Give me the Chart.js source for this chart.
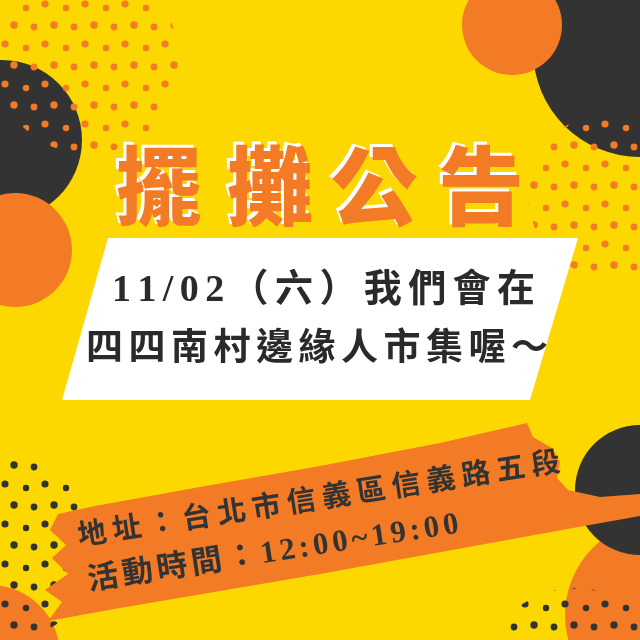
<!DOCTYPE html>
<html>
<head>
<meta charset="utf-8">
<script src="https://cdn.jsdelivr.net/npm/chart.js@4.4.0/dist/chart.umd.min.js"></script>
<style>
  html, body { margin: 0; padding: 0; background: #fdd800; }
  #wrap { width: 640px; height: 640px; }
</style>
</head>
<body>
<div id="wrap"><canvas id="poster"></canvas></div>
<script>
// big round blobs (drawn in this order)
const blobX = [2, 15, 640, 512, 660, 640, -10]
const blobY = [140, 250, 50, 25, 615, 490, 655]
const blobR = [80, 57, 107, 50, 95, 65, 70]
const blobTone = ['dark', 'orange', 'dark', 'orange', 'orange', 'dark', 'orange']

// dotted clusters
const dotX = [88, 610, 5, 575]
const dotY = [62, 195, 548, 682]
const dotR = [92, 82, 92, 94]
const dotTone = ['orange', 'orange', 'dark', 'dark']

// white card
const cardX = [108, 578, 530, 62, 108]
const cardY = [238, 238, 400, 400, 238]

// orange brush stripe
const stripeX = [58, 95, 200, 320, 440, 527, 533, 552, 560, 557, 568, 600, 640, 640, 573, 320, 120, 48, 62, 45, 68, 52, 66, 50, 58]
const stripeY = [514, 506, 487, 466, 443, 423, 437, 448, 462, 478, 490, 497, 494, 516, 528, 574, 608, 621, 602, 590, 574, 558, 545, 530, 514]

const titleChars = ['擺', '攤', '公', '告']
const cardLines = ['11/02（六）我們會在', '四四南村邊緣人市集喔～']
const stripeLines = ['地址：台北市信義區信義路五段', '活動時間：12:00~19:00']

const COLORS = { dark: '#333333', orange: '#f47b25', yellow: '#fdd800', white: '#ffffff' }

// dot texture used to fill the cluster bubbles
function dotPattern(color) {
  const c = document.createElement('canvas')
  c.width = 40
  c.height = 40
  const g = c.getContext('2d')
  g.fillStyle = color
  const pts = [[5, 4, 3.6], [26, 8, 3.2], [14, 25, 3.7], [34, 27, 3.4]]
  pts.forEach(p => {
    g.beginPath()
    g.arc(p[0], p[1], p[2], 0, Math.PI * 2)
    g.fill()
  })
  return g.createPattern(c, 'repeat')
}

function spreadText(ctx, text, x0, x1, y) {
  const chars = Array.from(text)
  const widths = chars.map(ch => ctx.measureText(ch).width)
  const total = widths.reduce((a, b) => a + b, 0)
  const gap = chars.length > 1 ? (x1 - x0 - total) / (chars.length - 1) : 0
  let x = x0
  chars.forEach((ch, i) => {
    ctx.fillText(ch, x, y)
    x += widths[i] + gap
  })
}

const textPlugin = {
  id: 'posterText',
  beforeDraw(chart) {
    const ctx = chart.ctx
    ctx.save()
    ctx.fillStyle = COLORS.yellow
    ctx.fillRect(0, 0, chart.width, chart.height)
    ctx.restore()
  },
  afterDatasetsDraw(chart) {
    const ctx = chart.ctx
    ctx.save()
    ctx.textBaseline = 'middle'
    ctx.textAlign = 'center'

    // title
    ctx.font = '900 86px "Noto Sans CJK TC"'
    const titleCx = [159, 270, 374, 481]
    titleChars.forEach((ch, i) => {
      ctx.fillStyle = COLORS.white
      ctx.fillText(ch, titleCx[i] - 3, 186 - 3)
      ctx.fillStyle = COLORS.orange
      ctx.fillText(ch, titleCx[i], 186)
    })

    // card text
    ctx.textAlign = 'left'
    ctx.fillStyle = '#2a2a2a'
    ctx.font = 'bold 38px "Liberation Serif", "Noto Sans CJK TC"'
    spreadText(ctx, cardLines[0], 112, 535, 291)
    ctx.font = 'bold 37px "Noto Sans CJK TC"'
    spreadText(ctx, cardLines[1], 86, 548, 346)

    // stripe text (tilted)
    ctx.fillStyle = '#333333'
    ctx.font = 'bold 29px "Liberation Serif", "Noto Sans CJK TC"'
    const ang = -8.8 * Math.PI / 180
    ctx.save()
    ctx.translate(78, 538)
    ctx.rotate(ang)
    spreadText(ctx, stripeLines[0], 0, 488, 0)
    ctx.restore()
    ctx.save()
    ctx.translate(88, 582)
    ctx.rotate(ang)
    ctx.font = 'bold 31px "Liberation Serif", "Noto Sans CJK TC"'
    spreadText(ctx, stripeLines[1], 0, 375, 0)
    ctx.restore()

    ctx.restore()
  }
}

const ctx = document.getElementById('poster').getContext('2d')
new Chart(ctx, {
  data: {
    datasets: [
      {
        type: 'bubble',
        order: 5,
        data: blobX.map((x, i) => ({ x: x, y: blobY[i], r: blobR[i] })),
        backgroundColor: blobTone.map(t => COLORS[t]),
        borderWidth: 0
      },
      {
        type: 'bubble',
        order: 4,
        data: dotX.map((x, i) => ({ x: x, y: dotY[i], r: dotR[i] })),
        backgroundColor: dotTone.map(t => dotPattern(COLORS[t])),
        borderWidth: 0
      },
      {
        type: 'line',
        order: 3,
        data: cardX.map((x, i) => ({ x: x, y: cardY[i] })),
        backgroundColor: COLORS.white,
        borderWidth: 0,
        pointRadius: 0,
        tension: 0,
        fill: 'shape'
      },
      {
        type: 'line',
        order: 2,
        data: stripeX.map((x, i) => ({ x: x, y: stripeY[i] })),
        backgroundColor: COLORS.orange,
        borderWidth: 0,
        pointRadius: 0,
        tension: 0,
        fill: 'shape'
      }
    ]
  },
  options: {
    responsive: true,
    maintainAspectRatio: false,
    animation: false,
    events: [],
    layout: { padding: 0, autoPadding: false },
    plugins: { legend: { display: false }, tooltip: { enabled: false } },
    scales: {
      x: { type: 'linear', min: 0, max: 640, display: false },
      y: { type: 'linear', min: 0, max: 640, reverse: true, display: false }
    }
  },
  plugins: [textPlugin]
})
</script>
</body>
</html>
